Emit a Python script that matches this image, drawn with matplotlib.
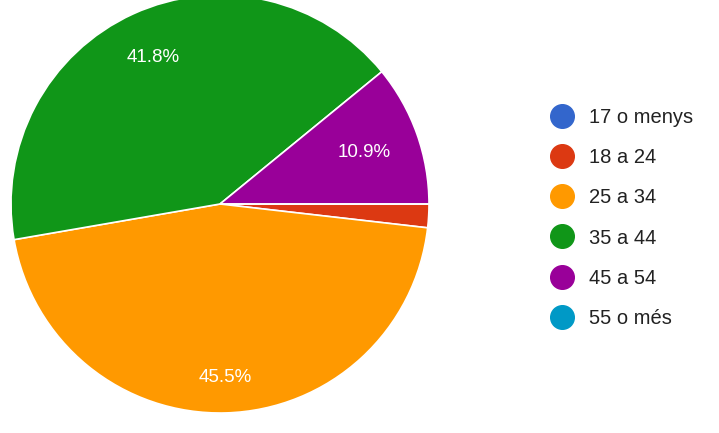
import numpy as np
import matplotlib
matplotlib.use("Agg")
import matplotlib.pyplot as plt
from matplotlib.lines import Line2D

plt.rcParams['font.family'] = ['Liberation Sans', 'DejaVu Sans']

categories = ['17 o menys', '18 a 24', '25 a 34', '35 a 44', '45 a 54', '55 o més']
counts = [0, 1, 25, 23, 6, 0]
colors = ['#3366cc', '#dc3912', '#ff9900', '#109618', '#990099', '#0099c6']

fig = plt.figure(figsize=(7.19, 4.33), dpi=100)
ax = fig.add_axes([0, 0, 1, 1])

cx, cy, r = 220, 229, 209
wedges, _ = ax.pie(counts, colors=colors, startangle=0, counterclock=False,
                   center=(cx, cy), radius=r, frame=True,
                   wedgeprops=dict(edgecolor='white', linewidth=1.2))
ax.set_xlim(0, 719)
ax.set_ylim(0, 433)
ax.set_aspect('equal')
ax.axis('off')

total = sum(counts)
# radial position of each percentage label (fraction of radius)
label_frac = [0.78, 0.78, 0.83, 0.77, 0.73, 0.78]
for w, c, f in zip(wedges, counts, label_frac):
    pct = 100 * c / total
    if pct < 5:
        continue
    mid = np.deg2rad((w.theta1 + w.theta2) / 2)
    ax.text(cx + f * r * np.cos(mid), cy + f * r * np.sin(mid), f'{pct:.1f}%',
            color='white', fontsize=13.5, ha='center', va='center')

handles = [Line2D([], [], marker='o', linestyle='', markersize=17,
                  markerfacecolor=col, markeredgecolor=col) for col in colors]
leg = ax.legend(handles, categories, loc='upper left', bbox_to_anchor=(540 / 719, 1 - 98 / 433),
                frameon=False, fontsize=14.5, labelspacing=1.05, handletextpad=0.75,
                handlelength=1.2, borderpad=0)
for t in leg.get_texts():
    t.set_color('#222222')

fig.savefig('out.png', dpi=100)
